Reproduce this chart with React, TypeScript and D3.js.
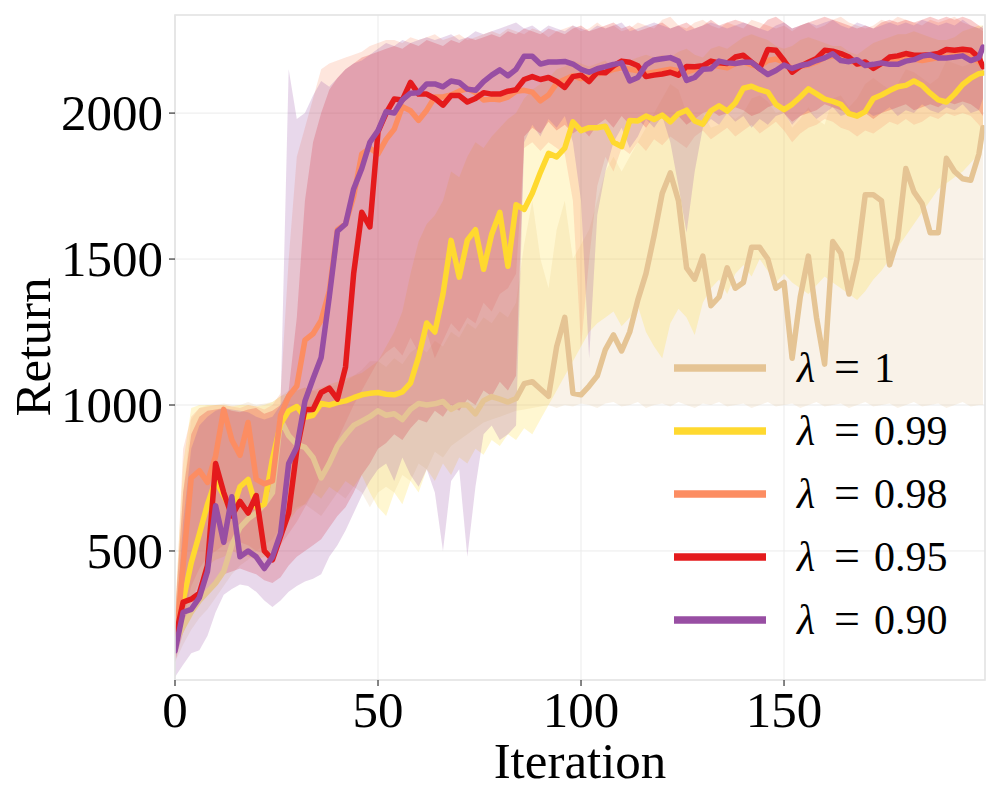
import React from 'react';
import * as d3 from 'd3';

// iteration grid (every 2 iterations, plus the last one)
const ITER: number[] = [...d3.range(0, 200, 2), 199];

const X_TICKS = [0, 50, 100, 150];
const Y_TICKS = [500, 1000, 1500, 2000];

const LABELS = ['1', '0.99', '0.98', '0.95', '0.90'];
const COLORS = ['#e5c494', '#ffd92f', '#fc8d62', '#e41a1c', '#984ea3'];

// ---- lambda = 1 ----
const MEAN_L100 = [
  185, 240, 290, 330, 360, 390, 430, 520, 580, 610,
  630, 660, 700, 950, 895, 865, 855, 820, 750, 800,
  860, 897, 930, 945, 960, 980, 965, 970, 950, 985,
  1005, 1000, 1004, 1012, 985, 1000, 1000, 970, 1015, 1029,
  1020, 1010, 1022, 1073, 1080, 1055, 1030, 1200, 1300, 1040,
  1035, 1065, 1100, 1190, 1240, 1185, 1250, 1360, 1450, 1580,
  1725, 1795, 1700, 1470, 1431, 1510, 1340, 1370, 1470, 1400,
  1420, 1540, 1540, 1500, 1400, 1420, 1160, 1370, 1510, 1300,
  1140, 1560, 1520, 1380, 1500, 1720, 1720, 1700, 1480, 1570,
  1810, 1730, 1690, 1590, 1590, 1845, 1800, 1775, 1770, 1860,
  1950,
];
const LO_L100 = [
  120, 180, 230, 270, 300, 340, 380, 420, 450, 470,
  500, 520, 540, 580, 620, 650, 660, 640, 620, 660,
  700, 680, 720, 700, 650, 700, 720, 700, 760, 740,
  800, 780, 840, 820, 860, 880, 900, 920, 940, 950,
  960, 970, 980, 985, 990, 995, 1000, 990, 1000, 995,
  1005, 1000, 990, 1005, 1010, 995, 1000, 1010, 990, 1000,
  1005, 995, 1010, 1000, 990, 1005, 1000, 1010, 995, 1000,
  1005, 990, 1000, 1010, 995, 1000, 1005, 990, 1000, 1010,
  995, 1000, 1005, 990, 1000, 1010, 995, 1000, 1005, 990,
  1000, 1010, 995, 1000, 1005, 990, 1000, 1010, 995, 1000,
  1000,
];
const HI_L100 = [
  260, 700, 950, 990, 1000, 1000, 1005, 1000, 1000, 1010,
  1000, 1005, 1010, 1030, 1050, 1050, 1060, 1050, 1040, 1060,
  1070, 1080, 1100, 1120, 1150, 1150, 1130, 1160, 1140, 1180,
  1200, 1180, 1220, 1200, 1250, 1230, 1280, 1260, 1300, 1280,
  1320, 1300, 1350, 1550, 1700, 1500, 1400, 1600, 1700, 1500,
  1550, 1600, 1700, 1800, 1850, 1800, 1850, 1900, 1950, 2000,
  2050, 2100, 2080, 2000, 1980, 2000, 1950, 1960, 2000, 1980,
  2000, 2050, 2060, 2040, 2000, 2010, 1950, 1980, 2020, 1980,
  1960, 2050, 2060, 2020, 2050, 2100, 2120, 2100, 2080, 2100,
  2150, 2140, 2120, 2100, 2120, 2180, 2170, 2160, 2170, 2200,
  2220,
];

// ---- lambda = 0.99 ----
const MEAN_L099 = [
  200, 330, 460, 558, 660, 742, 690, 635, 720, 745,
  650, 660, 815, 935, 980, 995, 958, 965, 1005, 1000,
  1008, 1014, 1025, 1035, 1040, 1043, 1037, 1035, 1045, 1075,
  1165, 1281, 1250, 1380, 1564, 1438, 1565, 1601, 1465, 1585,
  1660, 1475, 1686, 1670, 1725, 1797, 1862, 1850, 1880, 1970,
  1940, 1950, 1950, 1955, 1900, 1885, 1975, 1973, 1990, 1978,
  1993, 1970, 1998, 2010, 1973, 1962, 2008, 2025, 2007, 2035,
  2085, 2092, 2080, 2072, 2030, 2012, 2030, 2055, 2083, 2066,
  2048, 2040, 2030, 1998, 1990, 2005, 2050, 2062, 2077, 2090,
  2095, 2110, 2095, 2068, 2045, 2038, 2065, 2098, 2120, 2135,
  2137,
];
const LO_L099 = [
  140, 240, 330, 400, 450, 470, 480, 500, 490, 480,
  470, 480, 500, 560, 600, 640, 660, 700, 680, 720,
  700, 740, 720, 760, 700, 650, 620, 700, 660, 740,
  700, 780, 740, 800, 760, 820, 800, 850, 830, 880,
  860, 900, 880, 920, 900, 950, 1000, 1050, 1100, 1150,
  1200, 1250, 1280, 1300, 1320, 1270, 1300, 1340, 1250, 1200,
  1160, 1280, 1330, 1300, 1240, 1350, 1400, 1430, 1380, 1450,
  1480, 1440, 1500, 1460, 1420, 1450, 1420, 1400, 1380, 1410,
  1440, 1420, 1400, 1380, 1360, 1390, 1430, 1460, 1500, 1540,
  1580, 1620, 1660, 1700, 1740, 1760, 1780, 1800, 1830, 1860,
  1880,
];
const HI_L099 = [
  280, 800, 990, 1000, 1000, 1000, 1000, 995, 1000, 1000,
  995, 1000, 1010, 1030, 1040, 1050, 1060, 1050, 1060, 1070,
  1080, 1090, 1100, 1110, 1130, 1150, 1200, 1250, 1320, 1450,
  1560, 1620, 1650, 1700, 1800, 1780, 1850, 1900, 1880, 1920,
  1950, 1980, 2000, 2050, 2080, 2100, 2120, 2150, 2160, 2180,
  2170, 2160, 2170, 2180, 2150, 2140, 2180, 2190, 2200, 2190,
  2200, 2190, 2210, 2220, 2200, 2190, 2220, 2230, 2220, 2240,
  2260, 2270, 2260, 2250, 2230, 2220, 2230, 2250, 2260, 2250,
  2240, 2230, 2230, 2210, 2200, 2220, 2240, 2250, 2260, 2270,
  2270, 2280, 2270, 2260, 2250, 2250, 2260, 2280, 2290, 2300,
  2300,
];

// ---- lambda = 0.98 ----
const MEAN_L098 = [
  160, 450, 750, 775, 735, 825, 985, 880, 828, 940,
  745, 730, 740, 965, 1030, 1065, 1222, 1244, 1290, 1390,
  1600, 1620, 1715, 1860, 1880, 1860, 1910, 1945, 2022, 2008,
  1975, 2010, 2055, 2055, 2062, 2075, 2084, 2070, 2045, 2048,
  2046, 2055, 2075, 2078, 2072, 2042, 2062, 2102, 2115, 2128,
  2118, 2125, 2135, 2140, 2150, 2155, 2150, 2145, 2135, 2140,
  2145, 2150, 2145, 2140, 2150, 2160, 2165, 2160, 2155, 2170,
  2175, 2165, 2160, 2180, 2185, 2175, 2150, 2160, 2165, 2175,
  2190, 2195, 2190, 2180, 2170, 2165, 2160, 2170, 2180, 2185,
  2190, 2185, 2180, 2185, 2190, 2195, 2200, 2200, 2195, 2175,
  2160,
];
const LO_L098 = [
  130, 260, 380, 440, 480, 500, 520, 540, 530, 520,
  500, 490, 480, 520, 560, 600, 650, 700, 760, 820,
  880, 940, 1000, 1050, 1100, 1150, 1180, 1200, 1170, 1230,
  1180, 1250, 1160, 1220, 1280, 1250, 1300, 1280, 1350, 1320,
  1380, 1400, 1450, 1880, 1900, 1870, 1900, 1880, 1860, 1700,
  1200, 1500, 1750, 1850, 1800, 1880, 1860, 1900, 1870, 1910,
  1890, 1920, 1900, 1880, 1920, 1940, 1910, 1930, 1950, 1920,
  1940, 1960, 1930, 1950, 1970, 1940, 1900, 1930, 1950, 1960,
  1980, 1970, 1950, 1940, 1920, 1940, 1930, 1950, 1970, 1960,
  1980, 1960, 1970, 1990, 1980, 2000, 1990, 2000, 1990, 1960,
  1940,
];
const HI_L098 = [
  260, 850, 960, 990, 995, 1000, 1000, 995, 990, 1000,
  995, 985, 1000, 1040, 1500, 1850, 1950, 2050, 2150, 2170,
  2180, 2190, 2200, 2210, 2230, 2240, 2250, 2250, 2240, 2260,
  2250, 2260, 2270, 2250, 2260, 2270, 2250, 2260, 2270, 2280,
  2270, 2290, 2280, 2270, 2290, 2280, 2260, 2280, 2290, 2300,
  2280, 2290, 2310, 2290, 2300, 2280, 2290, 2310, 2300, 2290,
  2320, 2330, 2300, 2290, 2310, 2320, 2300, 2290, 2310, 2300,
  2290, 2320, 2310, 2300, 2290, 2300, 2280, 2300, 2310, 2290,
  2300, 2320, 2330, 2310, 2300, 2290, 2300, 2320, 2310, 2330,
  2320, 2310, 2300, 2320, 2310, 2320, 2330, 2310, 2300, 2290,
  2280,
];

// ---- lambda = 0.95 ----
const MEAN_L095 = [
  195, 325, 335, 355, 450, 800, 700, 620, 670, 630,
  690, 500, 470, 550, 630, 845, 985, 985, 1043, 1058,
  1020, 1130, 1450, 1660, 1610, 1936, 2000, 2048, 2045, 2105,
  2065, 2065, 2050, 2027, 2060, 2060, 2038, 2050, 2070, 2065,
  2065, 2075, 2080, 2115, 2125, 2115, 2122, 2108, 2088, 2125,
  2130, 2108, 2140, 2138, 2162, 2178, 2174, 2162, 2125, 2130,
  2134, 2140, 2130, 2160, 2159, 2162, 2178, 2172, 2170, 2192,
  2198, 2175, 2152, 2218, 2215, 2180, 2140, 2160, 2174, 2187,
  2215, 2212, 2204, 2192, 2168, 2175, 2153, 2170, 2192, 2196,
  2204, 2198, 2198, 2200, 2204, 2218, 2215, 2219, 2215, 2190,
  2159,
];
const LO_L095 = [
  120, 220, 280, 320, 360, 400, 420, 430, 440, 430,
  420, 400, 390, 410, 450, 480, 500, 520, 540, 580,
  620, 650, 700, 760, 800, 850, 870, 900, 880, 920,
  950, 940, 980, 960, 1000, 980, 1020, 1000, 1050, 1030,
  1080, 1050, 1100, 1920, 1950, 1930, 1970, 1940, 1960, 1930,
  1950, 1920, 1960, 1980, 1950, 1990, 1960, 1980, 1950, 1990,
  2000, 1970, 1990, 1960, 1980, 2000, 2010, 1990, 2000, 2020,
  2010, 1990, 2000, 2020, 2030, 2000, 1970, 1990, 2000, 2010,
  2030, 2020, 2010, 2000, 1990, 2000, 1980, 2000, 2010, 2020,
  2030, 2010, 2020, 2030, 2020, 2040, 2030, 2040, 2030, 2010,
  1990,
];
const HI_L095 = [
  280, 700, 900, 960, 980, 985, 990, 980, 975, 985,
  990, 970, 980, 1000, 1050, 1300, 1700, 1900, 2000, 2080,
  2120, 2150, 2170, 2190, 2200, 2210, 2220, 2230, 2220, 2240,
  2230, 2250, 2240, 2230, 2250, 2240, 2260, 2250, 2260, 2270,
  2260, 2280, 2270, 2290, 2280, 2270, 2290, 2280, 2270, 2290,
  2300, 2280, 2290, 2300, 2310, 2290, 2300, 2280, 2290, 2300,
  2310, 2290, 2300, 2310, 2290, 2300, 2320, 2300, 2310, 2320,
  2310, 2300, 2290, 2320, 2330, 2310, 2290, 2300, 2310, 2320,
  2330, 2320, 2310, 2300, 2290, 2300, 2290, 2310, 2320, 2310,
  2320, 2310, 2320, 2330, 2320, 2330, 2320, 2330, 2320, 2300,
  2290,
];

// ---- lambda = 0.90 ----
const MEAN_L090 = [
  158, 290, 300, 340, 430, 655, 530, 686, 480, 500,
  480, 440, 480, 560, 800, 855, 1013, 1090, 1163, 1370,
  1595, 1620, 1740, 1810, 1900, 1940, 2005, 2000, 2045, 2068,
  2070, 2100, 2100, 2090, 2110, 2105, 2082, 2078, 2108, 2130,
  2148, 2128, 2150, 2195, 2195, 2168, 2175, 2175, 2177, 2168,
  2150, 2140, 2152, 2159, 2167, 2172, 2110, 2122, 2165, 2182,
  2186, 2190, 2178, 2112, 2122, 2150, 2152, 2178, 2172, 2170,
  2174, 2174, 2152, 2132, 2146, 2165, 2153, 2163, 2168, 2180,
  2189, 2203, 2180, 2176, 2183, 2163, 2167, 2172, 2167, 2167,
  2178, 2183, 2195, 2200, 2189, 2189, 2192, 2196, 2180, 2190,
  2226,
];
const LO_L090 = [
  68, 110, 150, 160, 210, 290, 350, 370, 385, 380,
  360, 330, 308, 330, 360, 380, 395, 405, 420, 480,
  520, 570, 630, 690, 740, 780, 800, 740, 820, 760,
  720, 780, 700, 500, 740, 780, 480, 720, 900, 930,
  880, 900, 930, 1900, 1960, 1920, 1980, 1950, 1990, 1900,
  1700, 1160, 1650, 1800, 1900, 1950, 1880, 1920, 1980, 1950,
  1990, 1900, 1750, 1590, 1800, 1950, 1980, 1960, 2000, 1970,
  1990, 1950, 1980, 1960, 1990, 2000, 1960, 1990, 2010, 1980,
  2000, 2020, 1990, 2000, 1980, 2010, 1990, 2000, 2020, 1990,
  2010, 2000, 2030, 2010, 2000, 2020, 2010, 2030, 2000, 2010,
  2050,
];
const HI_L090 = [
  200, 600, 850, 930, 960, 980, 990, 985, 980, 975,
  960, 950, 960, 1000, 2150, 1980, 2000, 2060, 2110, 2090,
  2120, 2150, 2170, 2180, 2200, 2220, 2240, 2230, 2250, 2240,
  2250, 2260, 2250, 2260, 2270, 2250, 2260, 2280, 2270, 2280,
  2290, 2300, 2310, 2290, 2300, 2280, 2300, 2290, 2280, 2300,
  2290, 2280, 2300, 2290, 2300, 2310, 2280, 2290, 2300, 2310,
  2300, 2290, 2300, 2280, 2290, 2300, 2310, 2300, 2290, 2300,
  2310, 2300, 2290, 2280, 2300, 2310, 2290, 2300, 2310, 2300,
  2310, 2320, 2300, 2290, 2310, 2300, 2290, 2300, 2310, 2300,
  2310, 2300, 2320, 2310, 2300, 2310, 2300, 2320, 2300, 2290,
  2300,
];

const MEANS = [MEAN_L100, MEAN_L099, MEAN_L098, MEAN_L095, MEAN_L090];
const LOWS = [LO_L100, LO_L099, LO_L098, LO_L095, LO_L090];
const HIGHS = [HI_L100, HI_L099, HI_L098, HI_L095, HI_L090];

const FONT = '"Liberation Serif", "Times New Roman", serif';

const L = 175, R = 985, T = 15, B = 680;

export default function App() {
  const x = d3.scaleLinear().domain([0, 199.5]).range([L, R]);
  const y = d3.scaleLinear().domain([58, 2336]).range([B, T]);

  const series = LABELS.map((label, s) => ({
    label,
    color: COLORS[s],
    pts: ITER.map((it, i) => ({ it, m: MEANS[s][i], lo: LOWS[s][i], hi: HIGHS[s][i] })),
  }));

  type P = { it: number; m: number; lo: number; hi: number };
  const area = d3
    .area<P>()
    .x((d) => x(d.it))
    .y0((d) => y(d.lo))
    .y1((d) => y(d.hi));
  const line = d3
    .line<P>()
    .x((d) => x(d.it))
    .y((d) => y(d.m));

  return (
    <svg
      width={1000}
      height={800}
      style={{ position: 'absolute', left: 0, top: 0, background: '#fff' }}
      fontFamily={FONT}
    >
      <defs>
        <clipPath id="plotclip">
          <rect x={L} y={T} width={R - L} height={B - T} />
        </clipPath>
      </defs>
      <rect x={0} y={0} width={1000} height={800} fill="#fff" />

      {/* grid */}
      {X_TICKS.map((t) => (
        <line key={'gx' + t} x1={x(t)} x2={x(t)} y1={T} y2={B} stroke="#ebebeb" strokeWidth={1} />
      ))}
      {Y_TICKS.map((t) => (
        <line key={'gy' + t} x1={L} x2={R} y1={y(t)} y2={y(t)} stroke="#ebebeb" strokeWidth={1} />
      ))}

      <g clipPath="url(#plotclip)">
        {series.map((s) => (
          <path key={'band' + s.label} d={area(s.pts) || ''} fill={s.color} fillOpacity={0.22} stroke="none" />
        ))}
        {series.map((s) => (
          <path
            key={'line' + s.label}
            d={line(s.pts) || ''}
            fill="none"
            stroke={s.color}
            strokeWidth={5.5}
            strokeLinejoin="round"
            strokeLinecap="round"
          />
        ))}
      </g>

      {/* frame */}
      <rect x={L} y={T} width={R - L} height={B - T} fill="none" stroke="#e3e3e3" strokeWidth={1.6} />

      {/* y axis ticks */}
      {Y_TICKS.map((t) => (
        <g key={'yt' + t}>
          <line x1={L - 6} x2={L} y1={y(t)} y2={y(t)} stroke="#333" strokeWidth={1.2} />
          <text x={163} y={y(t) + 17} textAnchor="end" fontSize={51} fill="#000">
            {t}
          </text>
        </g>
      ))}
      {/* x axis ticks */}
      {X_TICKS.map((t) => (
        <g key={'xt' + t}>
          <line x1={x(t)} x2={x(t)} y1={B} y2={B + 6} stroke="#333" strokeWidth={1.2} />
          <text x={x(t)} y={727} textAnchor="middle" fontSize={51} fill="#000">
            {t}
          </text>
        </g>
      ))}

      <text x={580} y={778} textAnchor="middle" fontSize={51} fill="#000">
        Iteration
      </text>
      <text transform="translate(50,347) rotate(-90)" textAnchor="middle" fontSize={51} fill="#000">
        Return
      </text>

      {/* legend */}
      {series.map((s, i) => {
        const ly = 368 + i * 63;
        return (
          <g key={'lg' + s.label}>
            <line x1={674} x2={766} y1={ly} y2={ly} stroke={s.color} strokeWidth={7.5} />
            <text x={797} y={ly + 14} fontSize={42} fontStyle="italic" fill="#000">
              λ
            </text>
            <text x={834} y={ly + 14} fontSize={46} fill="#000">
              =
            </text>
            <text x={874} y={ly + 14} fontSize={42} fill="#000">
              {s.label}
            </text>
          </g>
        );
      })}
    </svg>
  );
}
